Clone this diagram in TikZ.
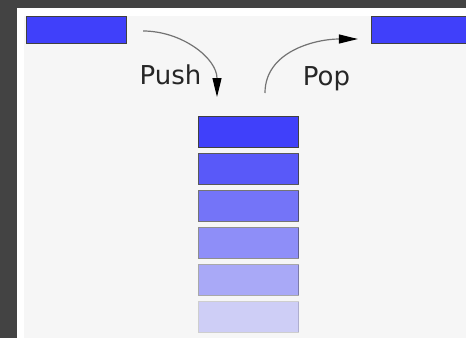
\documentclass[tikz,border=0pt]{standalone}
\usepackage{fontspec}
\setmainfont{DejaVu Sans}
\usepackage{xcolor}
\usetikzlibrary{arrows.meta, positioning}
\definecolor{framegray}{RGB}{67, 67, 67}
\definecolor{paper}{RGB}{246, 246, 246}
\definecolor{stackblue}{RGB}{64, 64, 250}
\definecolor{labelgray}{RGB}{38, 38, 38}

\begin{document}
\begin{tikzpicture}[
    x=1pt, y=-1pt,
    node distance=5pt,
    stackbox/.style={rectangle, draw=black!75, fill=stackblue, line width=1.2pt,
                minimum width=100pt, minimum height=30.8pt, inner sep=0pt},
    endbox/.style={stackbox, minimum height=26.8pt},
    label/.style={font=\fontsize{26}{30}\selectfont, text=labelgray, anchor=base, inner sep=0pt},
    arrow/.style={-{Triangle[length=19pt, width=9pt, color=black]}, draw=black!55, line width=1.2pt}
]
    \useasboundingbox (0,0) rectangle (466,338);
    % Background
    \fill[framegray] (0,0) rectangle (466,338);
    \fill[white] (17,8) rectangle (466,338);
    \fill[paper] (24,16) rectangle (466,338);

    % Boxes
    \node[endbox] (incoming) at (76.5,30) {};
    \node[endbox] (outgoing) at (421.5,30) {};
    \node[stackbox] (top) at (248.5,132) {};
    \node[stackbox, opacity=0.86, below=of top] (second) {};
    \node[stackbox, opacity=0.71, below=of second] (third) {};
    \node[stackbox, opacity=0.57, below=of third] (fourth) {};
    \node[stackbox, opacity=0.42, below=of fourth] (fifth) {};
    \node[stackbox, opacity=0.22, below=of fifth] (bottom) {};

    % Arrow ends
    \coordinate (pushstart) at ([xshift=16pt, yshift=-1pt]incoming.east);
    \coordinate (pushend) at ([xshift=-31.5pt, yshift=19pt]top.north);
    \coordinate (popstart) at ([xshift=16.5pt, yshift=23pt]top.north);
    \coordinate (popend) at ([xshift=-13pt, yshift=-9pt]outgoing.west);

    % Arrows
    \draw[arrow] (pushstart) to[out=0, in=90] (pushend);
    \draw[arrow] (popstart) to[out=90, in=180] (popend);

    % Labels
    \node[label] (pushlabel) at (170.5,84) {Push};
    \node[label] (poplabel) at (326.5,85.5) {Pop};
\end{tikzpicture}
\end{document}
